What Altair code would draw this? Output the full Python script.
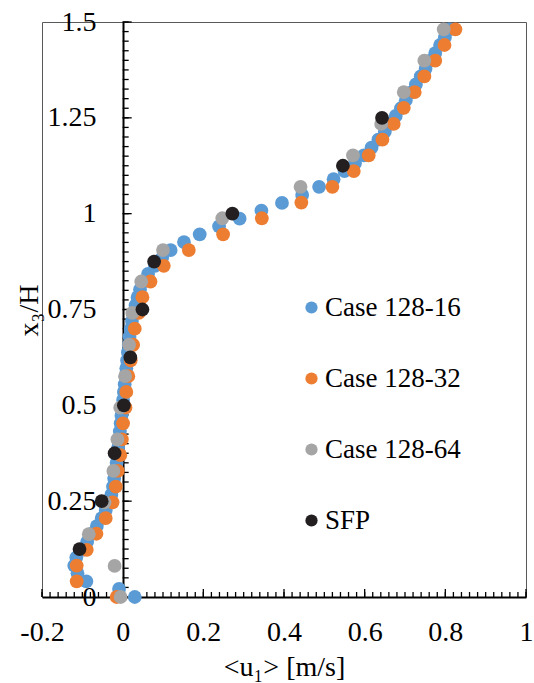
import altair as alt
import pandas as pd

# ---------------- data ----------------
series_names = ["Case 128-16", "Case 128-32", "Case 128-64", "SFP"]
series_colors = ["#5B9BD5", "#ED7D31", "#A5A5A5", "#231F20"]

h_128_16 = [0.000, 0.021, 0.041, 0.062, 0.082, 0.103, 0.123, 0.144, 0.165, 0.185,
            0.206, 0.226, 0.247, 0.267, 0.288, 0.309, 0.329, 0.350, 0.370, 0.391,
            0.411, 0.432, 0.453, 0.473, 0.494, 0.514, 0.535, 0.555, 0.576, 0.597,
            0.617, 0.638, 0.658, 0.679, 0.699, 0.720, 0.741, 0.761, 0.782, 0.802,
            0.823, 0.843, 0.864, 0.885, 0.905, 0.926, 0.946, 0.967, 0.987, 1.008,
            1.028, 1.049, 1.070, 1.090, 1.111, 1.131, 1.152, 1.172, 1.193, 1.214,
            1.234, 1.255, 1.275, 1.296, 1.316, 1.337, 1.358, 1.378, 1.399, 1.419,
            1.440, 1.460, 1.481]
u_128_16 = [0.030, -0.009, -0.090, -0.112, -0.120, -0.115, -0.100, -0.088, -0.076, -0.064,
            -0.052, -0.042, -0.034, -0.028, -0.024, -0.021, -0.018, -0.015, -0.013, -0.011,
            -0.009, -0.007, -0.005, -0.003, -0.001, 0.001, 0.003, 0.005, 0.007, 0.009,
            0.011, 0.013, 0.015, 0.017, 0.020, 0.023, 0.027, 0.032, 0.037, 0.043,
            0.051, 0.063, 0.080, 0.098, 0.119, 0.152, 0.191, 0.239, 0.290, 0.344,
            0.395, 0.445, 0.487, 0.523, 0.550, 0.576, 0.598, 0.617, 0.634, 0.650,
            0.664, 0.677, 0.690, 0.702, 0.714, 0.727, 0.739, 0.751, 0.763, 0.775,
            0.787, 0.799, 0.810]

h_128_32 = [0.000, 0.041, 0.082, 0.123, 0.165, 0.206, 0.247, 0.288, 0.329, 0.370,
            0.411, 0.453, 0.494, 0.535, 0.576, 0.617, 0.658, 0.700, 0.741, 0.782,
            0.823, 0.864, 0.905, 0.946, 0.988, 1.029, 1.070, 1.111, 1.152, 1.193,
            1.234, 1.276, 1.317, 1.358, 1.399, 1.440, 1.481]
u_128_32 = [-0.015, -0.114, -0.114, -0.089, -0.065, -0.042, -0.025, -0.017, -0.012, -0.006,
            -0.002, 0.001, 0.007, 0.009, 0.014, 0.020, 0.026, 0.030, 0.040, 0.049,
            0.069, 0.102, 0.164, 0.249, 0.345, 0.443, 0.520, 0.573, 0.610, 0.644,
            0.672, 0.697, 0.724, 0.748, 0.775, 0.798, 0.825]

h_128_64 = [0.000, 0.081, 0.164, 0.247, 0.329, 0.411, 0.494, 0.576, 0.658, 0.741,
            0.823, 0.905, 0.988, 1.070, 1.152, 1.234, 1.317, 1.399, 1.481]
u_128_64 = [-0.005, -0.020, -0.084, -0.045, -0.023, -0.013, -0.006, 0.006, 0.016, 0.024,
            0.046, 0.100, 0.247, 0.441, 0.571, 0.641, 0.697, 0.748, 0.796]

h_sfp = [0.125, 0.250, 0.375, 0.500, 0.625, 0.750, 0.875, 1.000, 1.125, 1.250]
u_sfp = [-0.107, -0.052, -0.020, 0.003, 0.019, 0.049, 0.078, 0.272, 0.546, 0.643]

x_tick_labels = [-0.2, 0, 0.2, 0.4, 0.6, 0.8, 1]
y_tick_labels = [0, 0.25, 0.5, 0.75, 1, 1.25, 1.5]

# ---------------- tables ----------------
rows = []
for i, (name, hs, us) in enumerate(zip(series_names,
                                       [h_128_16, h_128_32, h_128_64, h_sfp],
                                       [u_128_16, u_128_32, u_128_64, u_sfp])):
    for h, u in zip(hs, us):
        rows.append({"series": name, "u": u, "h": h, "ord": i})
df = pd.DataFrame(rows)

x_minor = pd.DataFrame({"u": [round(-0.2 + 0.02 * i, 3) for i in range(61)]})
x_major = pd.DataFrame({"u": x_tick_labels})
y_minor = pd.DataFrame({"h": [round(0.025 * i, 3) for i in range(61)]})
y_major = pd.DataFrame({"h": y_tick_labels})

FONT = "Liberation Serif"
FS = 28
x_scale = alt.Scale(domain=[-0.2, 1], nice=False, zero=False)
y_scale = alt.Scale(domain=[0, 1.5], nice=False, zero=False)

x_axis = alt.Axis(values=x_tick_labels, labelExpr="'' + datum.value",
                  title="<u₁> [m/s]", ticks=False, tickSize=0, grid=False,
                  domainColor="black", domainWidth=2,
                  labelFont=FONT, labelFontSize=FS, labelColor="black",
                  labelPadding=21, labelFlush=False, labelOverlap=False,
                  titleFont=FONT, titleFontSize=FS, titleFontWeight="normal",
                  titleColor="black", titleBaseline="alphabetic", titleY=78)
y_axis = alt.Axis(values=y_tick_labels, labelExpr="'' + datum.value",
                  title="x₃/H", ticks=False, tickSize=0, grid=False,
                  offset=-81, domainColor="black", domainWidth=2,
                  labelFont=FONT, labelFontSize=FS, labelColor="black",
                  labelPadding=27, labelFlush=False, labelOverlap=False,
                  titleFont=FONT, titleFontSize=FS, titleFontWeight="normal",
                  titleColor="black", titleAngle=270, titleAlign="center",
                  titleBaseline="alphabetic", titleX=-86, titleY=288)

# ---------------- axis tick marks (inward) ----------------
def xticks(data, size):
    return alt.Chart(data).mark_tick(orient="vertical", size=size, thickness=1.3,
                                     color="black", yOffset=-size / 2, opacity=1).encode(
        x=alt.X("u:Q", scale=x_scale, axis=x_axis),
        y=alt.YDatum(0, scale=y_scale, axis=y_axis),
    )

def yticks(data, size):
    return alt.Chart(data).mark_tick(orient="horizontal", size=size, thickness=1.3,
                                     color="black", xOffset=size / 2, opacity=1).encode(
        x=alt.XDatum(0, scale=x_scale, axis=x_axis),
        y=alt.Y("h:Q", scale=y_scale, axis=y_axis),
    )

points = alt.Chart(df).mark_circle(size=190, opacity=1).encode(
    x=alt.X("u:Q", scale=x_scale, axis=x_axis),
    y=alt.Y("h:Q", scale=y_scale, axis=y_axis),
    color=alt.Color("series:N",
                    scale=alt.Scale(domain=series_names, range=series_colors),
                    legend=alt.Legend(title=None, orient="none", legendX=256, legendY=272,
                                      direction="vertical", symbolType="circle",
                                      symbolSize=150, symbolStrokeWidth=0, symbolOpacity=1,
                                      labelFont=FONT, labelFontSize=27, labelColor="black",
                                      labelOffset=0, rowPadding=43, padding=0,
                                      labelLimit=300)),
    order=alt.Order("ord:Q"),
)

chart = alt.layer(
    xticks(x_minor, 5), xticks(x_major, 8),
    yticks(y_minor, 6), yticks(y_major, 9),
    points,
).properties(
    width=484, height=575,
    autosize=alt.AutoSizeParams(type="none"),
    padding={"left": 42, "top": 22, "right": 8, "bottom": 86},
    background="white",
).configure_view(stroke="#595959", strokeWidth=1)

chart.save("out.html", embed_options={"renderer": "svg", "actions": False})
